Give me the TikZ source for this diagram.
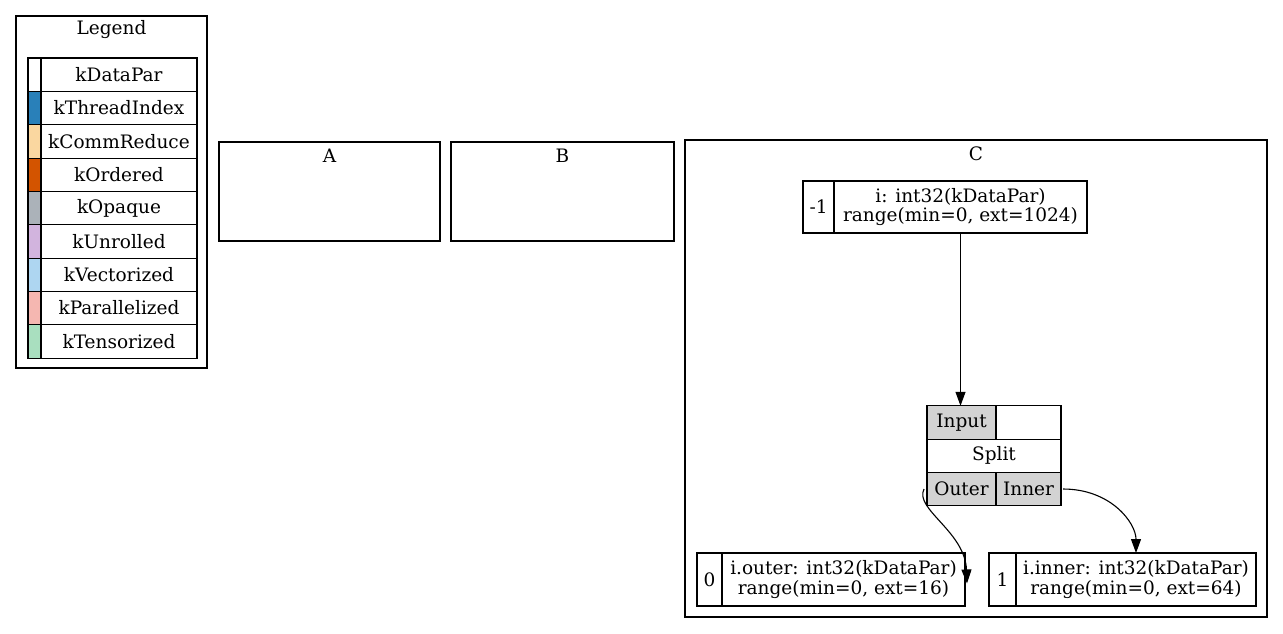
\documentclass[tikz,border=0pt]{standalone}
\usepackage{fontspec}
\setmainfont{DejaVu Serif}
\usepackage{tikz}
\usetikzlibrary{positioning,arrows.meta}
\definecolor{kthread}{HTML}{2980B9}
\definecolor{kcomm}{HTML}{FAD7A0}
\definecolor{kord}{HTML}{D35400}
\definecolor{kopq}{HTML}{ABB2B9}
\definecolor{kunr}{HTML}{D2B4DE}
\definecolor{kvec}{HTML}{AED6F1}
\definecolor{kpar}{HTML}{F5B7B1}
\definecolor{kten}{HTML}{A9DFBF}
\definecolor{portgray}{HTML}{D3D3D3}

\begin{document}
\begin{tikzpicture}[x=0.5pt, y=-0.5pt,
    every node/.style={font=\fontsize{9.25}{9.8}\selectfont, outer sep=0pt, inner sep=1pt},
    cluster/.style={draw, line width=0.55pt, minimum width=#1},
    cell/.style={draw, line width=0.55pt, align=center},
    lcell/.style={cell, minimum width=78pt, minimum height=16.67pt},
    ccell/.style={cell, minimum width=6.5pt, minimum height=16.67pt},
    port/.style={cell, fill=portgray, minimum height=16.7pt},
    arr/.style={-{Triangle[length=7pt, width=5pt]}, line width=0.55pt}
]
\useasboundingbox (0,0) rectangle (1283,633);

% clusters
\node[cluster=95.5pt, minimum height=176pt, label={[anchor=center, yshift=-7pt]north:Legend}] (clleg) at (111.5,192) {};
\node[cluster=110.5pt, minimum height=49.5pt, label={[anchor=center, yshift=-7pt]north:A}] (cla) at (329.5,191.5) {};
\node[cluster=111.5pt, minimum height=49.5pt, label={[anchor=center, yshift=-7pt]north:B}] (clb) at (562.5,191.5) {};
\node[cluster=291pt, minimum height=238.5pt, label={[anchor=center, yshift=-7pt]north:C}] (clc) at (976,378.5) {};

% legend table
\node[lcell] (kdp) at (119,74.7) {kDataPar};
\node[lcell, below=0pt of kdp] (kti) {kThreadIndex};
\node[lcell, below=0pt of kti] (kcr) {kCommReduce};
\node[lcell, below=0pt of kcr] (kod) {kOrdered};
\node[lcell, below=0pt of kod] (kop) {kOpaque};
\node[lcell, below=0pt of kop] (kun) {kUnrolled};
\node[lcell, below=0pt of kun] (kvc) {kVectorized};
\node[lcell, below=0pt of kvc] (kpl) {kParallelized};
\node[lcell, below=0pt of kpl] (kts) {kTensorized};
\node[ccell, fill=white,   left=0pt of kdp] (kdpc) {};
\node[ccell, fill=kthread, left=0pt of kti] (ktic) {};
\node[ccell, fill=kcomm,   left=0pt of kcr] (kcrc) {};
\node[ccell, fill=kord,    left=0pt of kod] (kodc) {};
\node[ccell, fill=kopq,    left=0pt of kop] (kopc) {};
\node[ccell, fill=kunr,    left=0pt of kun] (kunc) {};
\node[ccell, fill=kvec,    left=0pt of kvc] (kvcc) {};
\node[ccell, fill=kpar,    left=0pt of kpl] (kplc) {};
\node[ccell, fill=kten,    left=0pt of kts] (ktsc) {};

% iter var i
\node[cell, minimum width=126.5pt, minimum height=26pt] (itxt) at (960.5,207) {i: int32(kDataPar)\\range(min=0, ext=1024)};
\node[cell, minimum width=15.5pt, minimum height=26pt, left=0pt of itxt] (iidx) {-1};

% split relation
\node[port, minimum width=34.5pt] (inp) at (961.5,422.5) {Input};
\node[cell, minimum width=32.5pt, minimum height=16.7pt, right=0pt of inp] (blank) {};
\node[cell, minimum width=67pt, minimum height=16.6pt] (split) at (994,455.7) {Split};
\node[port, minimum width=34.5pt] (outer) at (961.5,489) {Outer};
\node[port, minimum width=32.5pt, right=0pt of outer] (inner) {Inner};

% iter vars i.outer, i.inner
\node[cell, minimum width=121.5pt, minimum height=26.5pt] (otxt) at (843.5,579.5) {i.outer: int32(kDataPar)\\range(min=0, ext=16)};
\node[cell, minimum width=12.5pt, minimum height=26.5pt, left=0pt of otxt] (oidx) {0};
\node[cell, minimum width=120pt, minimum height=26.5pt] (ntxt) at (1136,579.5) {i.inner: int32(kDataPar)\\range(min=0, ext=64)};
\node[cell, minimum width=13.5pt, minimum height=26.5pt, left=0pt of ntxt] (nidx) {1};

% edges
\draw[arr] (itxt.south) -- (itxt.south |- inp.north);
\draw[arr] ([xshift=-1.5pt]outer.west) .. controls +(-10,20) and +(-2,-52) .. ([xshift=1pt, yshift=-2pt]otxt.east);
\draw[arr] ([xshift=1pt]inner.east) .. controls +(48,0) and +(0,-30) .. (ntxt.north);
\end{tikzpicture}
\end{document}
